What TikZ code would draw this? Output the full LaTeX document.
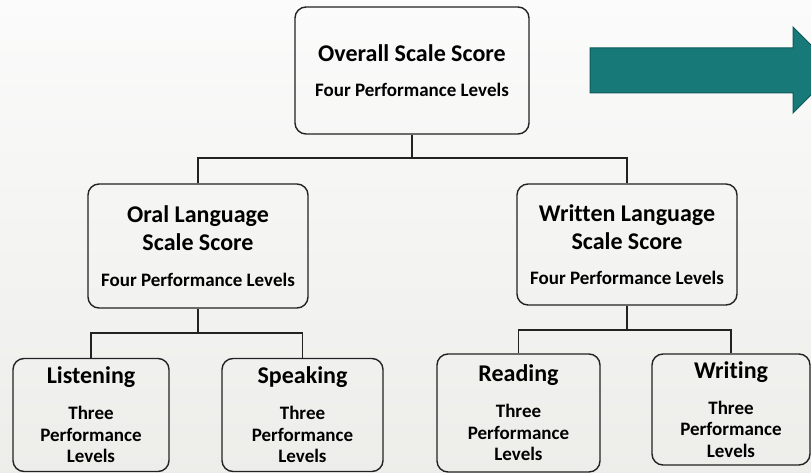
\documentclass[tikz,border=0pt]{standalone}
\usepackage{fontspec}
\setmainfont{Carlito}[Ligatures=CommonOff]
\definecolor{bgA}{HTML}{FBFBFB}
\definecolor{bgB}{HTML}{EDEDEA}
\definecolor{teal1}{HTML}{177A78}
\definecolor{teal2}{HTML}{0E5A58}
\definecolor{ink}{HTML}{222222}
\tikzset{
  box/.style={draw=ink, line width=1.4pt, rounded corners=11pt, align=center,
    font=\bfseries\fontsize{19}{21.5}\selectfont, inner sep=0pt, text=black},
  conn/.style={draw=ink, line width=1.4pt},
}
\newcommand{\ttl}[1]{{\fontsize{24}{21.5}\selectfont #1}}
\begin{document}
\begin{tikzpicture}[x=1pt,y=-1pt]
\useasboundingbox (0,0) rectangle (811,473);
\clip (0,0) rectangle (811,473);
\shade[top color=bgA, bottom color=bgB] (0,0) rectangle (811,473);
% arrow
\fill[teal1, draw=teal2, line width=1pt] (590,48) -- (793,48) -- (793,27) -- (836,70) -- (793,113) -- (793,93) -- (590,93) -- cycle;
% boxes
\node[box, minimum width=234pt, minimum height=127pt] (top) at (412,70.5)
  {\ttl{Overall Scale Score}\\[13.5pt]Four Performance Levels};
\node[box, minimum width=220pt, minimum height=124pt] (oral) at (198,246)
  {\ttl{Oral Language}\\[6.5pt]\ttl{Scale Score}\\[14pt]Four Performance Levels};
\node[box, minimum width=220pt, minimum height=121pt] (written) at (627,244.5)
  {\ttl{Written Language}\\[6.5pt]\ttl{Scale Score}\\[14pt]Four Performance Levels};
\node[box, minimum width=156pt, minimum height=113pt] (listen) at (91,415)
  {\ttl{Listening}\\[14.5pt]Three\\Performance\\Levels};
\node[box, minimum width=161pt, minimum height=113pt] (speak) at (302.5,415)
  {\ttl{Speaking}\\[14.5pt]Three\\Performance\\Levels};
\node[box, minimum width=163pt, minimum height=118pt] (read) at (518.5,413)
  {\ttl{Reading}\\[14.5pt]Three\\Performance\\Levels};
\node[box, minimum width=158pt, minimum height=111pt] (write) at (731,409.5)
  {\ttl{Writing}\\[14.5pt]Three\\Performance\\Levels};
% connectors
\coordinate (j1) at (412,158);
\coordinate (j2) at (198,333);
\coordinate (j3) at (627,330);
\draw[conn] (top.south) -- (j1);
\draw[conn] (oral.north) |- (j1) -| (written.north);
\draw[conn] (oral.south) -- (j2);
\draw[conn] (listen.north) |- (j2) -| (speak.north);
\draw[conn] (written.south) -- (j3);
\draw[conn] (read.north) |- (j3) -| (write.north);
\end{tikzpicture}
\end{document}
